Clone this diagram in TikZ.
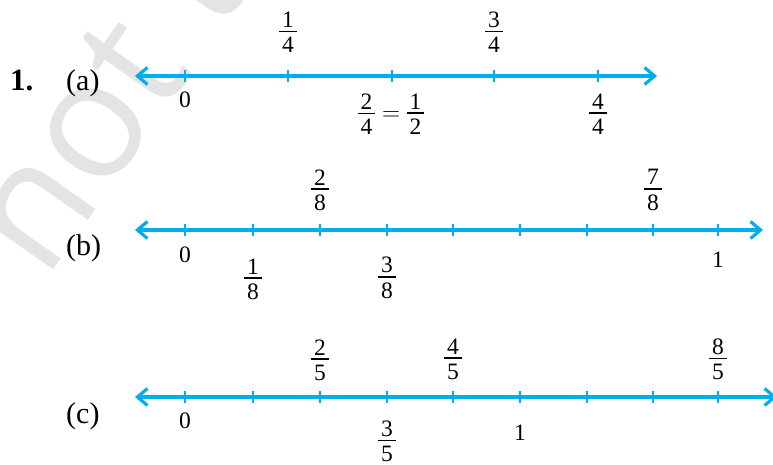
\documentclass[tikz,border=0pt]{standalone}
\usepackage{fontspec}
\setmainfont{Liberation Serif}
\newfontfamily\wmfont{Open Sans}
\usetikzlibrary{arrows.meta}
\definecolor{axisblue}{RGB}{0,174,239}
\definecolor{wmgray}{RGB}{228,228,228}
\newcommand{\fr}[2]{\vbox{\offinterlineskip\halign{\hfil##\hfil\cr #1\cr\noalign{\kern3.3pt}\vrule width 17.5pt height 1.7pt depth 0pt\cr\noalign{\kern4.6pt}#2\cr}}}
\newcommand{\mfr}[2]{$\vcenter{\fr{#1}{#2}}$}
\tikzset{
  axisline/.style={draw=axisblue, line width=3.2pt,
    {Straight Barb[length=10pt,width=17pt]}-{Straight Barb[length=10pt,width=17pt]}},
  tickmark/.style={draw=axisblue, line width=2.6pt},
  num/.style={inner sep=0pt, font=\fontsize{23.5}{28}\selectfont},
  digit/.style={num, anchor=base},
  lab/.style={inner sep=0pt, anchor=base west, font=\fontsize{30}{36}\selectfont},
  wm/.style={inner sep=0pt, anchor=base west, text=wmgray, font=\wmfont\fontsize{165}{165}\selectfont, rotate=55},
}
\begin{document}
\begin{tikzpicture}[x=1pt,y=-1pt]
\useasboundingbox (0,0) rectangle (773,465);
\node[wm] (wm) at (45,282) {not to};

% ---------- (a)
\node[lab, font={\fontsize{31}{36}\selectfont\bfseries}] (q1) at (10,91) {1.};
\node[lab] (la) at (66,91) {(a)};
\coordinate (aL) at (135,76);
\coordinate (aR) at (657,76);
\draw[axisline] (aL) -- (aR);
\foreach \x [count=\i] in {185,288,392,494,598}{
  \coordinate (at\i) at (\x,76);
  \draw[tickmark] ([yshift=6pt]at\i) -- ([yshift=-6pt]at\i);
}
\node[digit] (a0) at (185,108) {0};
\node[num] (a14) at (288,32) {\mfr{1}{4}};
\node[num] (a34) at (494,32) {\mfr{3}{4}};
\node[num] (a24) at (391,114) {$\vcenter{\fr{2}{4}}=\vcenter{\fr{1}{2}}$};
\node[num] (a44) at (598,114) {\mfr{4}{4}};

% ---------- (b)
\node[lab] (lb) at (66,255) {(b)};
\coordinate (bL) at (135,230);
\coordinate (bR) at (763,230);
\draw[axisline] (bL) -- (bR);
\foreach \x [count=\i] in {185,253,320,387,453,520,587,653,718}{
  \coordinate (bt\i) at (\x,230);
  \draw[tickmark] ([yshift=6pt]bt\i) -- ([yshift=-6pt]bt\i);
}
\node[digit] (b0) at (185,262) {0};
\node[num] (b18) at (253,279) {\mfr{1}{8}};
\node[num] (b28) at (320,190) {\mfr{2}{8}};
\node[num] (b38) at (387,278) {\mfr{3}{8}};
\node[num] (b78) at (653,190) {\mfr{7}{8}};
\node[digit] (b1) at (718,267) {1};

% ---------- (c)
\node[lab] (lc) at (66,423) {(c)};
\coordinate (cL) at (135,397);
\coordinate (cR) at (777,397);
\draw[axisline] (cL) -- (cR);
\foreach \x [count=\i] in {185,253,320,387,453,520,587,653,718}{
  \coordinate (ct\i) at (\x,397);
  \draw[tickmark] ([yshift=6pt]ct\i) -- ([yshift=-6pt]ct\i);
}
\node[digit] (c0) at (185,428) {0};
\node[num] (c25) at (320,360) {\mfr{2}{5}};
\node[num] (c35) at (387,441) {\mfr{3}{5}};
\node[num] (c45) at (453,359) {\mfr{4}{5}};
\node[num] (c85) at (718,359) {\mfr{8}{5}};
\node[digit] (c1) at (520,440) {1};
\end{tikzpicture}
\end{document}
